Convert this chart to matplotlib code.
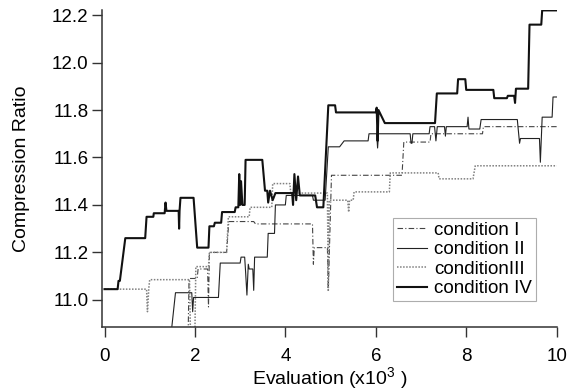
import matplotlib
matplotlib.use('Agg')
from matplotlib import pyplot as plt

plt.rcParams['font.family'] = ['Liberation Sans', 'DejaVu Sans']
plt.rcParams['mathtext.default'] = 'regular'

# evaluation (x10^3) / compression ratio
cond1_x = [1.85, 1.87, 2.05, 2.07, 2.28, 2.30, 2.32, 2.70, 2.75, 3.30, 3.34, 4.60, 4.62, 4.64,
           4.93, 4.95, 5.02, 6.58, 6.62, 7.20, 7.22, 8.36, 8.38, 10.0]
cond1_y = [10.86, 11.09, 11.09, 11.13, 11.13, 10.97, 11.20, 11.20, 11.33, 11.33, 11.32, 11.32, 11.15, 11.22,
           11.22, 11.04, 11.525, 11.525, 11.665, 11.665, 11.70, 11.70, 11.73, 11.73]

cond2_x = [1.48, 1.57, 1.93, 1.95, 1.97, 2.52, 2.56, 3.00, 3.02, 3.10, 3.12, 3.15, 3.18, 3.20, 3.28,
           3.30, 3.32, 3.60, 3.62, 3.76, 3.78, 4.00, 4.02, 4.60, 4.62, 4.88, 4.95, 5.20, 5.30, 5.83,
           5.85, 6.02, 6.04, 6.06, 6.76, 6.78, 6.80, 6.82, 7.18, 7.20, 7.30, 7.33, 7.36, 7.52, 7.54,
           7.56, 8.02, 8.04, 8.06, 8.30, 8.33, 9.13, 9.18, 9.20, 9.62, 9.64, 9.68, 9.90, 9.92, 10.0]
cond2_y = [10.87, 11.03, 11.03, 10.95, 11.01, 11.01, 11.155, 11.155, 11.18, 11.18, 11.12, 11.02, 11.15, 11.13, 11.13,
           11.04, 11.18, 11.18, 11.28, 11.28, 11.40, 11.40, 11.44, 11.44, 11.42, 11.42, 11.645, 11.645, 11.67, 11.67,
           11.70, 11.70, 11.64, 11.70, 11.70, 11.66, 11.66, 11.70, 11.70, 11.73, 11.73, 11.67, 11.73, 11.73, 11.69,
           11.73, 11.73, 11.77, 11.72, 11.72, 11.76, 11.76, 11.66, 11.68, 11.68, 11.58, 11.77, 11.77, 11.855, 11.855]

cond3_x = [0.0, 0.93, 0.95, 0.98, 1.00, 1.88, 1.90, 2.00, 2.02, 2.30, 2.32, 2.70, 2.74, 3.20, 3.22,
           3.70, 3.72, 4.10, 4.12, 4.93, 4.95, 4.97, 5.38, 5.40, 5.42, 5.50, 5.52, 6.30, 6.32, 7.38,
           7.40, 8.15, 8.20, 10.0]
cond3_y = [11.045, 11.045, 10.95, 11.05, 11.085, 11.085, 10.87, 10.87, 11.14, 11.14, 11.20, 11.20, 11.35, 11.35, 11.39,
           11.39, 11.49, 11.49, 11.45, 11.45, 11.04, 11.42, 11.42, 11.37, 11.42, 11.42, 11.455, 11.455, 11.535, 11.535,
           11.51, 11.51, 11.565, 11.565]

cond4_x = [0.0, 0.29, 0.31, 0.34, 0.46, 0.90, 0.93, 1.08, 1.09, 1.33, 1.35, 1.37, 1.64, 1.65, 1.66,
           1.68, 1.97, 2.05, 2.30, 2.32, 2.42, 2.44, 2.58, 2.60, 2.88, 2.90, 2.96, 2.98, 3.00, 3.02,
           3.05, 3.10, 3.12, 3.49, 3.55, 3.60, 3.62, 3.66, 3.72, 3.78, 4.15, 4.17, 4.20, 4.24, 4.28,
           4.32, 4.66, 4.70, 4.84, 4.95, 5.10, 5.12, 6.00, 6.02, 6.04, 6.06, 6.20, 7.31, 7.35, 7.80,
           7.82, 7.98, 8.00, 8.60, 8.62, 8.90, 8.92, 9.06, 9.08, 9.10, 9.37, 9.40, 9.66, 9.68, 10.0]
cond4_y = [11.045, 11.045, 11.08, 11.08, 11.26, 11.26, 11.35, 11.35, 11.365, 11.365, 11.41, 11.375, 11.375, 11.30, 11.375,
           11.43, 11.43, 11.22, 11.22, 11.31, 11.31, 11.325, 11.325, 11.37, 11.37, 11.39, 11.39, 11.53, 11.40, 11.50,
           11.40, 11.40, 11.59, 11.59, 11.46, 11.46, 11.41, 11.46, 11.42, 11.45, 11.45, 11.40, 11.53, 11.42, 11.52,
           11.44, 11.44, 11.39, 11.39, 11.82, 11.82, 11.79, 11.79, 11.81, 11.67, 11.80, 11.745, 11.745, 11.87, 11.87,
           11.93, 11.93, 11.885, 11.885, 11.85, 11.85, 11.86, 11.86, 11.83, 11.89, 11.89, 12.16, 12.16, 12.22, 12.22]

fig = plt.figure(figsize=(5.68, 3.91), dpi=100)
ax = fig.add_axes([0.180, 0.164, 0.800, 0.810])

ax.plot(cond1_x, cond1_y, color='#444444', lw=0.8, linestyle=(0, (5, 2, 1, 2)), label='condition I')
ax.plot(cond2_x, cond2_y, color='#222222', lw=0.8, label='condition II')
ax.plot(cond3_x, cond3_y, color='#808080', lw=1.1, linestyle=(0, (1, 1)), label='conditionIII')
ax.plot(cond4_x, cond4_y, color='#111111', lw=1.5, label='condition IV')

ax.set_xlim(-0.05, 10.0)
ax.set_ylim(10.886, 12.221)
ax.set_xticks([0, 2, 4, 6, 8, 10])
ax.set_yticks([11.0, 11.2, 11.4, 11.6, 11.8, 12.0, 12.2])
ax.set_yticklabels(['11.0', '11.2', '11.4', '11.6', '11.8', '12.0', '12.2'])

for s in ['top', 'right']:
    ax.spines[s].set_visible(False)
for s in ['left', 'bottom']:
    ax.spines[s].set_linewidth(1.1)
    ax.spines[s].set_color('#333333')
ax.tick_params(axis='both', direction='out', length=7, width=1.0, color='#333333',
               labelsize=13.5)
ax.tick_params(axis='x', pad=8)
ax.tick_params(axis='y', pad=3)

ax.set_xlabel('Evaluation (x10$^{3}$ )', fontsize=14)
ax.set_ylabel('Compression Ratio', fontsize=14)
ax.xaxis.set_label_coords(0.5, -0.122)
ax.yaxis.set_label_coords(-0.16, 0.5)

leg = ax.legend(loc='lower right', bbox_to_anchor=(0.954, 0.082), fontsize=13.5, frameon=True,
                fancybox=False, handlelength=1.6, handletextpad=0.4, borderpad=0.2,
                labelspacing=0.12, borderaxespad=0)
leg.get_frame().set_edgecolor('#999999')
leg.get_frame().set_linewidth(0.8)

plt.savefig('out.png', dpi=100)
